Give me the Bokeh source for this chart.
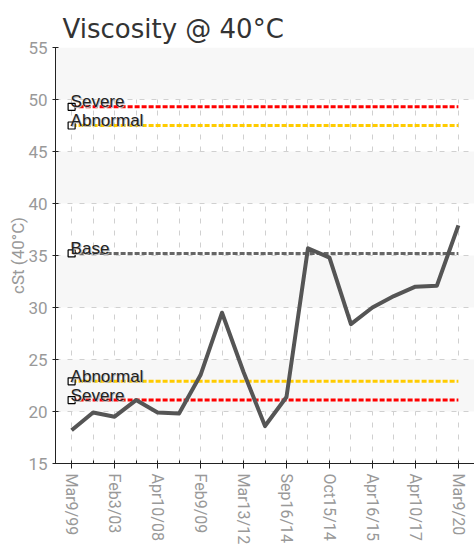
from bokeh.plotting import figure
from bokeh.models import FixedTicker, ColumnDataSource
from bokeh.core.properties import value
from bokeh.embed import file_html
from bokeh.resources import INLINE

# ---- data ----
tick_labels = ["Mar9/99", "Feb3/03", "Apr10/08", "Feb9/09", "Mar13/12",
               "Sep16/14", "Oct15/14", "Apr16/15", "Apr10/17", "Mar9/20"]
viscosity = [18.2, 19.9, 19.5, 21.1, 19.9, 19.8, 23.5, 29.5, 23.8, 18.6,
             21.4, 35.7, 34.8, 28.4, 30.0, 31.1, 32.0, 32.1, 37.9]
severe_high = 49.3
abnormal_high = 47.5
base_value = 35.2
abnormal_low = 22.9
severe_low = 21.1
y_ticks = [15, 20, 25, 30, 35, 40, 45, 50, 55]

n = len(viscosity)
idx = list(range(n))
major = idx[0::2]
minor = idx[1::2]

p = figure(width=474, height=549, x_range=(-0.75, n - 0.25), y_range=(15, 55),
           min_border_left=55, min_border_right=0, min_border_top=47, min_border_bottom=86,
           output_backend="svg", toolbar_location=None)
p.outline_line_color = None
p.background_fill_color = "white"

p.title.text = "Viscosity @ 40°C"
p.title.text_font = "DejaVu Sans"
p.title.text_font_size = "26px"
p.title.text_font_style = "normal"
p.title.text_color = "#333333"
p.title.offset = 7
p.title.vertical_align = "top"
p.title.standoff = 4
p.title.text_line_height = 0.6

# axes
p.xaxis.ticker = FixedTicker(ticks=major, minor_ticks=minor)
p.xaxis.major_label_overrides = {i: lab for i, lab in zip(major, tick_labels)}
p.xaxis.major_label_orientation = -1.5708
p.yaxis.ticker = FixedTicker(ticks=y_ticks)
for ax in (p.xaxis[0], p.yaxis[0]):
    ax.axis_line_color = "#222222"
    ax.major_tick_line_color = "#222222"
    ax.minor_tick_line_color = "#222222"
    ax.major_label_text_font = "Roboto"
    ax.major_label_text_font_size = "16px"
    ax.major_label_text_color = "#999999"
p.yaxis.major_label_text_font_size = "17px"
p.xaxis.major_tick_in = 3
p.xaxis.major_tick_out = 5
p.xaxis.minor_tick_in = 3
p.xaxis.minor_tick_out = 0
p.yaxis.major_tick_in = 3
p.yaxis.major_tick_out = 3
p.yaxis.minor_tick_line_color = None
p.yaxis.axis_label = "cSt (40°C)"
p.yaxis.axis_label_text_font = "Roboto"
p.yaxis.axis_label_text_font_size = "17px"
p.yaxis.axis_label_text_font_style = "normal"
p.yaxis.axis_label_text_color = "#999999"
p.yaxis.axis_label_standoff = -3

# grids
p.xgrid.ticker = FixedTicker(ticks=major, minor_ticks=minor)
p.xgrid.grid_line_color = "#d0d0d0"
p.xgrid.grid_line_dash = "5 7"
p.xgrid.minor_grid_line_color = "#d0d0d0"
p.xgrid.minor_grid_line_dash = "5 7"
p.ygrid.ticker = FixedTicker(ticks=y_ticks)
p.ygrid.grid_line_color = "#d0d0d0"
p.ygrid.grid_line_dash = "5 7"
p.ygrid.band_fill_color = "#f7f7f7"
p.ygrid.band_fill_alpha = 1.0

# threshold lines
thresholds = [("Severe", severe_high, "#ff0000"),
              ("Abnormal", abnormal_high, "#ffcc00"),
              ("Base", base_value, "#666666"),
              ("Abnormal", abnormal_low, "#ffcc00"),
              ("Severe", severe_low, "#ff0000")]
for name, val, col in thresholds:
    p.line(idx, [val] * n, line_color=col, line_width=3, line_dash="5 2")

# data line
p.line(idx, viscosity, line_color="#555555", line_width=4, line_join="round")

# threshold markers and labels
src = ColumnDataSource(dict(x=[0] * len(thresholds), y=[t[1] for t in thresholds],
                            name=[t[0] for t in thresholds]))
p.scatter("x", "y", source=src, marker="square", size=7, fill_color="white",
          line_color="#000000", line_width=1.2)
p.text("x", "y", text="name", source=src, x_offset=0, y_offset=-4,
       text_font=value("Liberation Sans"), text_font_size="17px", text_color="#bbbbbb",
       text_baseline="alphabetic", text_align="left")
p.text("x", "y", text="name", source=src, x_offset=-1, y_offset=-5,
       text_font=value("Liberation Sans"), text_font_size="17px", text_color="#222222",
       text_baseline="alphabetic", text_align="left")

open("out.html", "w").write(file_html(p, INLINE))
